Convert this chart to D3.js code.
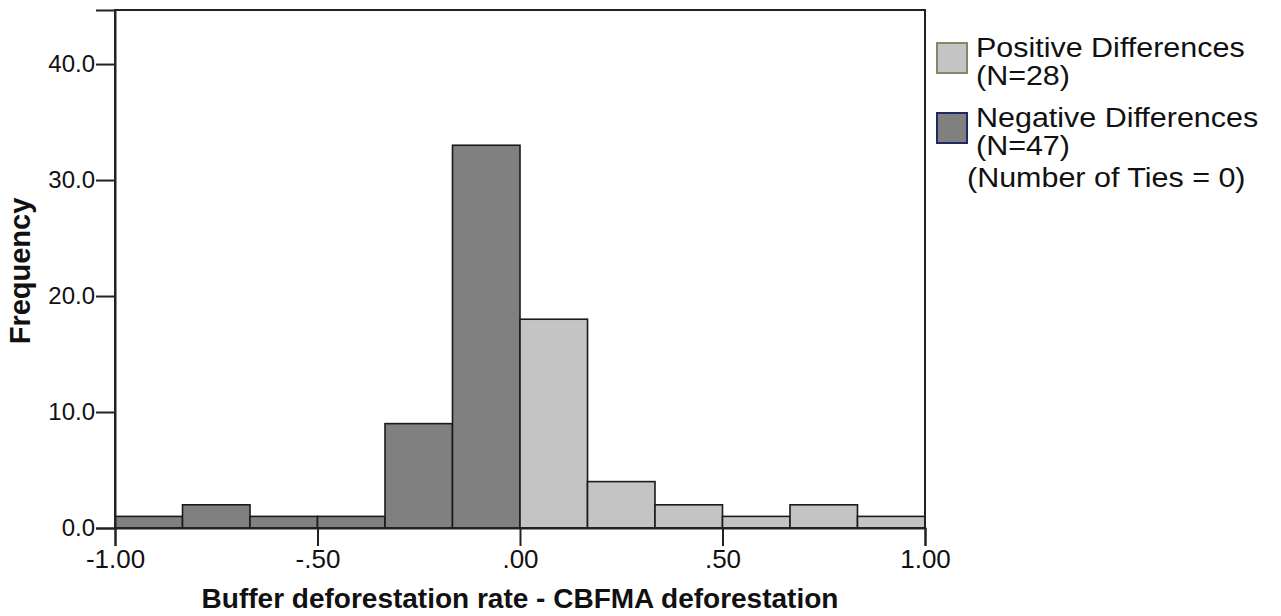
<!DOCTYPE html>
<html>
<head>
<meta charset="utf-8">
<script src="https://cdn.jsdelivr.net/npm/d3@7"></script>
<style>
  body { margin: 0; background: #fff; }
  svg text { font-family: 'Liberation Sans', Arial, sans-serif; fill: #111; }
</style>
</head>
<body>
<svg id="chart" width="1281" height="616"></svg>
<script>
// histogram of paired differences
const binEdges = [-1.0, -0.8333, -0.6667, -0.5, -0.3333, -0.1667, 0.0, 0.1667, 0.3333, 0.5, 0.6667, 0.8333, 1.0];
const negativeCounts = [1, 2, 1, 1, 9, 33];
const positiveCounts = [18, 4, 2, 1, 2, 1];
const xTicks = [-1.0, -0.5, 0.0, 0.5, 1.0];
const xTickLabels = ['-1.00', '-.50', '.00', '.50', '1.00'];
const yTicks = [0, 10, 20, 30, 40];
const legendItems = [
  { lines: ['Positive Differences', '(N=28)'], fill: '#c4c4c4', stroke: '#8a8564' },
  { lines: ['Negative Differences', '(N=47)'], fill: '#808080', stroke: '#1f2b5c' },
];
const tiesNote = '(Number of Ties = 0)';

const counts = [...negativeCounts, ...positiveCounts];
const bins = counts.map((c, i) => ({
  x0: binEdges[i],
  x1: binEdges[i + 1],
  count: c,
  negative: i < negativeCounts.length,
}));

const plot = { left: 115, right: 925, top: 10, bottom: 528 };

const svg = d3.select('#chart');

const xScale = d3.scaleLinear().domain([-1, 1]).range([plot.left, plot.right]);
const yScale = d3.scaleLinear().domain([0, 44.66]).range([plot.bottom, plot.top]);

// bars
svg
  .append('g')
  .selectAll('rect')
  .data(bins)
  .join('rect')
  .attr('x', (d) => xScale(d.x0))
  .attr('y', (d) => yScale(d.count))
  .attr('width', (d) => xScale(d.x1) - xScale(d.x0))
  .attr('height', (d) => yScale(0) - yScale(d.count))
  .attr('fill', (d) => (d.negative ? '#808080' : '#c4c4c4'))
  .attr('stroke', '#1a1a1a')
  .attr('stroke-width', 1.6);

// frame
svg
  .append('rect')
  .attr('x', plot.left)
  .attr('y', plot.top)
  .attr('width', plot.right - plot.left)
  .attr('height', plot.bottom - plot.top)
  .attr('fill', 'none')
  .attr('stroke', '#222')
  .attr('stroke-width', 2);

const yAxisG = svg.append('g').attr('transform', `translate(${plot.left},0)`);
yAxisG
  .call(
    d3
      .axisLeft(yScale)
      .tickValues(yTicks)
      .tickSize(19)
      .tickPadding(1)
      .tickFormat(d3.format('.1f')),
  )
  .attr('font-size', '24px')
  .attr('font-family', null);
yAxisG.selectAll('.tick line').attr('stroke', '#222').attr('stroke-width', 2);
yAxisG.selectAll('.tick text').attr('fill', '#111');

const xAxisG = svg.append('g').attr('transform', `translate(0,${plot.bottom})`);
xAxisG
  .call(
    d3
      .axisBottom(xScale)
      .tickValues(xTicks)
      .tickSize(18)
      .tickPadding(4)
      .tickFormat((d, i) => xTickLabels[i]),
  )
  .attr('font-size', '26px')
  .attr('font-family', null);
xAxisG.selectAll('.tick line').attr('stroke', '#222').attr('stroke-width', 2);
xAxisG.selectAll('.tick text').attr('fill', '#111');

svg.selectAll('.domain').attr('stroke', '#222').attr('stroke-width', 2);

// axis titles
svg
  .append('text')
  .attr('x', (plot.left + plot.right) / 2)
  .attr('y', 608)
  .attr('text-anchor', 'middle')
  .attr('font-size', '28px')
  .attr('font-weight', 'bold')
  .text('Buffer deforestation rate - CBFMA deforestation');

svg
  .append('text')
  .attr('transform', 'translate(30,271) rotate(-90)')
  .attr('text-anchor', 'middle')
  .attr('font-size', '29px')
  .attr('font-weight', 'bold')
  .text('Frequency');

// legend
const legend = svg.append('g').attr('transform', 'translate(937,0)');
legendItems.forEach((item, i) => {
  const top = 43 + i * 70;
  legend
    .append('rect')
    .attr('x', 0)
    .attr('y', top)
    .attr('width', 30)
    .attr('height', 30)
    .attr('fill', item.fill)
    .attr('stroke', item.stroke)
    .attr('stroke-width', 2);
  item.lines.forEach((line, j) => {
    legend
      .append('text')
      .attr('transform', `translate(39,${top + 14 + j * 28}) scale(1.27,1.12)`)
      .attr('font-size', '24px')
      .text(line);
  });
});
legend
  .append('text')
  .attr('transform', 'translate(30,187) scale(1.27,1.12)')
  .attr('font-size', '24px')
  .text(tiesNote);
</script>
</body>
</html>
